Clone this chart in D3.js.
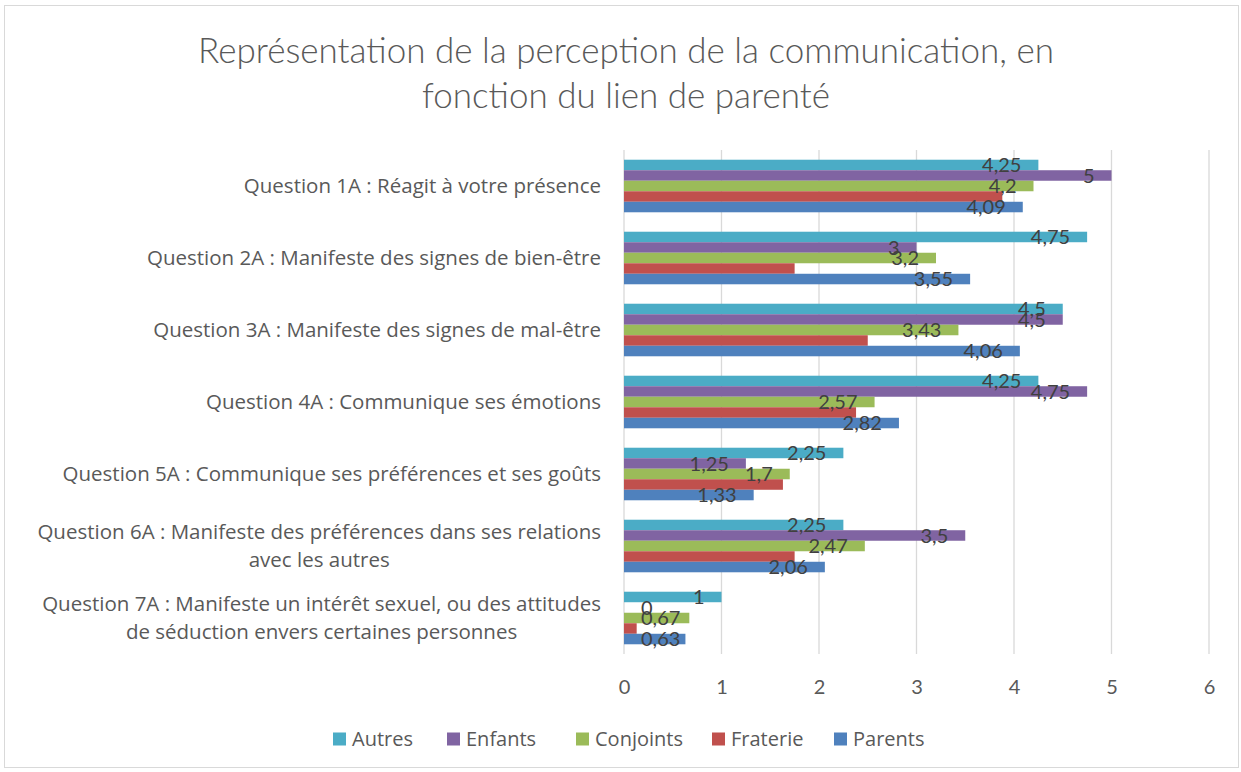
<!DOCTYPE html>
<html>
<head>
<meta charset="utf-8">
<script src="https://cdn.jsdelivr.net/npm/d3@7"></script>
<style>
body { margin: 0; background: #fff; }
text { font-family: Lato, "Open Sans", sans-serif; }
</style>
</head>
<body>
<script>
// data
var questions = [
  ["Question 1A : Réagit à votre présence"],
  ["Question 2A : Manifeste des signes de bien-être"],
  ["Question 3A : Manifeste des signes de mal-être"],
  ["Question 4A : Communique ses émotions"],
  ["Question 5A : Communique ses préférences et ses goûts"],
  ["Question 6A : Manifeste des préférences dans ses relations", "avec les autres"],
  ["Question 7A : Manifeste un intérêt sexuel, ou des attitudes", "de séduction envers certaines personnes"]
];
var seriesNames = ["Autres", "Enfants", "Conjoints", "Fraterie", "Parents"];
var colors = ["#4BACC6", "#8064A2", "#9BBB59", "#C0504D", "#4F81BD"];
var autres    = [4.25, 4.75, 4.5, 4.25, 2.25, 2.25, 1];
var enfants   = [5, 3, 4.5, 4.75, 1.25, 3.5, 0];
var conjoints = [4.2, 3.2, 3.43, 2.57, 1.7, 2.47, 0.67];
var fraterie  = [3.88, 1.75, 2.5, 2.38, 1.63, 1.75, 0.13]; // no labels, estimated
var parents   = [4.09, 3.55, 4.06, 2.82, 1.33, 2.06, 0.63];
var showLabel = [true, true, true, false, true];
var xTicks = [0, 1, 2, 3, 4, 5, 6];

var allSeries = [autres, enfants, conjoints, fraterie, parents];

var W = 1241, H = 772;
var svg = d3.select("body").append("svg").attr("width", W).attr("height", H);

svg.append("rect")
  .attr("x", 4.5).attr("y", 5.5).attr("width", 1234).attr("height", 762)
  .attr("fill", "#fff").attr("stroke", "#d9d9d9");

// title
var title = svg.append("text")
  .attr("x", 626).attr("text-anchor", "middle")
  .attr("fill", "#595959").style("font-size", "35px").style("font-weight", 300);
title.append("tspan").attr("x", 626).attr("y", 63).text("Représentation de la perception de la communication, en");
title.append("tspan").attr("x", 626).attr("y", 108).text("fonction du lien de parenté");

var plotLeft = 624, plotRight = 1209, plotTop = 150, plotBottom = 654;

var x = d3.scaleLinear().domain([0, 6]).range([plotLeft, plotRight]);
var y = d3.scaleBand().domain(d3.range(questions.length)).range([plotTop, plotBottom]).paddingInner(0.27).paddingOuter(0.135);
var ys = d3.scaleBand().domain(d3.range(seriesNames.length)).range([0, y.bandwidth()]);

// gridlines
svg.append("g")
  .selectAll("line").data(xTicks).enter().append("line")
  .attr("x1", function(d){ return x(d); }).attr("x2", function(d){ return x(d); })
  .attr("y1", plotTop).attr("y2", plotBottom)
  .attr("stroke", "#d9d9d9").attr("stroke-width", 1.3);

// x axis labels
var xAxis = svg.append("g").attr("transform", "translate(0," + plotBottom + ")")
  .call(d3.axisBottom(x).tickValues(xTicks).tickSize(0).tickPadding(26).tickFormat(d3.format("d")));
xAxis.select(".domain").remove();
xAxis.selectAll("text").attr("fill", "#595959").style("font-size", "20px").style("font-family", "Lato, sans-serif");

// bars
var groups = svg.selectAll("g.q").data(questions).enter().append("g")
  .attr("class", "q")
  .attr("transform", function(d, i){ return "translate(0," + y(i) + ")"; });

groups.each(function(q, qi) {
  var g = d3.select(this);
  seriesNames.forEach(function(s, si) {
    var v = allSeries[si][qi];
    g.append("rect")
      .attr("x", x(0)).attr("y", ys(si))
      .attr("width", x(v) - x(0)).attr("height", ys.bandwidth())
      .attr("fill", colors[si]);
  });
});

// data labels (inside end)
groups.each(function(q, qi) {
  var g = d3.select(this);
  seriesNames.forEach(function(s, si) {
    if (!showLabel[si]) return;
    var v = allSeries[si][qi];
    var t = g.append("text")
      .attr("y", ys(si) + ys.bandwidth() / 2)
      .attr("dy", "0.36em")
      .attr("text-anchor", "end")
      .attr("fill", "#404040").style("font-size", "20px")
      .text(String(v).replace(".", ","));
    var tw = t.node().getComputedTextLength();
    var xr = Math.max(x(v) - 17, x(0) + 17 + tw);
    t.attr("x", xr);
  });
});

// category labels
questions.forEach(function(lines, qi) {
  var cy = y(qi) + y.bandwidth() / 2;
  var t = svg.append("text").attr("fill", "#595959").style("font-size", "20.5px")
    .style("font-family", "'Open Sans', sans-serif").attr("text-anchor", "middle");
  var sp = t.selectAll("tspan").data(lines).enter().append("tspan").text(function(d){ return d; });
  var maxW = 0;
  sp.each(function(){ maxW = Math.max(maxW, this.getComputedTextLength()); });
  var cx = 601 - maxW / 2;
  var lh = 28;
  sp.attr("x", cx).attr("y", function(d, i){ return cy + (i - (lines.length - 1) / 2) * lh; }).attr("dy", "0.35em");
});

// legend
var legendX = [333, 447, 576, 712, 834];
var legend = svg.selectAll("g.leg").data(seriesNames).enter().append("g")
  .attr("class", "leg")
  .attr("transform", function(d, i){ return "translate(" + legendX[i] + ",739)"; });
legend.append("rect").attr("x", 0).attr("y", -6.5).attr("width", 13).attr("height", 13)
  .attr("fill", function(d, i){ return colors[i]; });
legend.append("text").attr("x", 19).attr("dy", "0.35em")
  .attr("fill", "#595959").style("font-size", "20px").style("font-family", "'Open Sans', sans-serif")
  .text(function(d){ return d; });
</script>
</body>
</html>
